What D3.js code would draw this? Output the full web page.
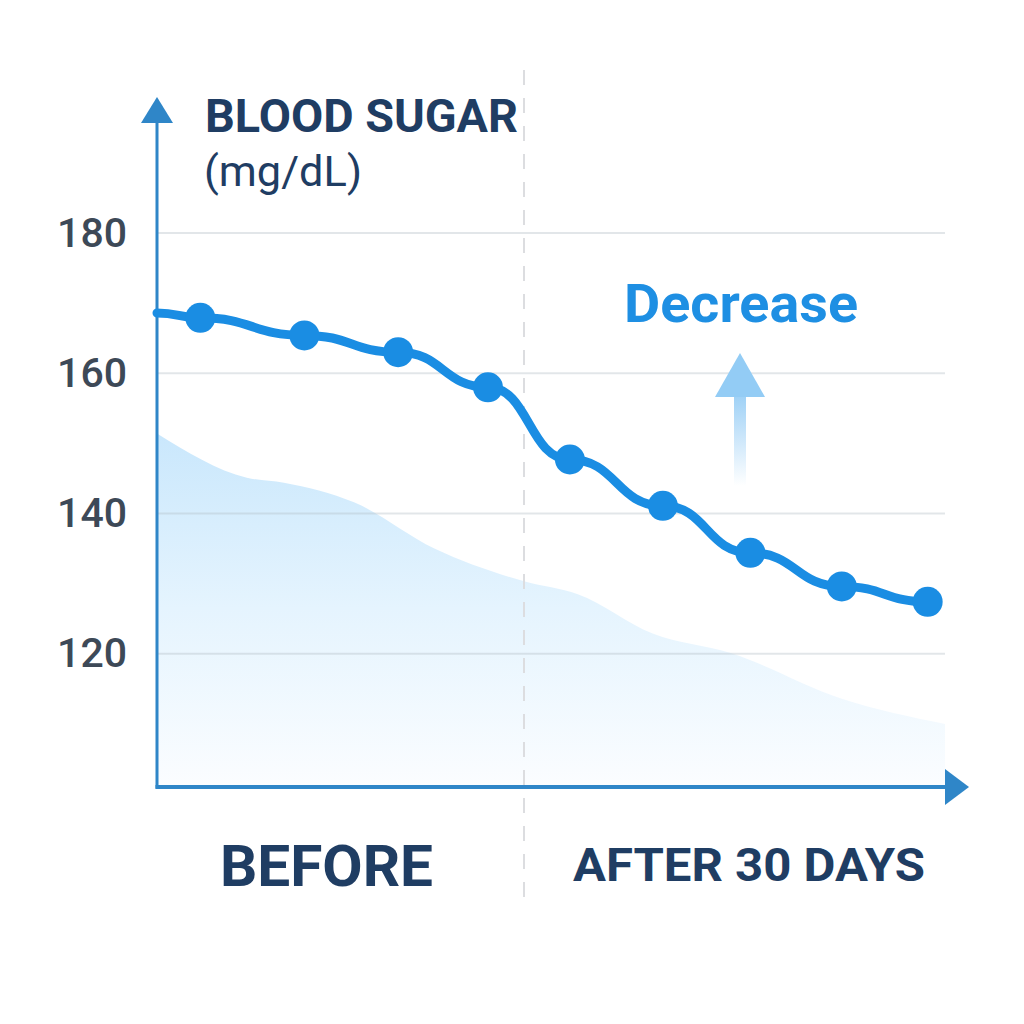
<!DOCTYPE html>
<html><head><meta charset="utf-8">
<script src="https://cdn.jsdelivr.net/npm/d3@7"></script>
<style>html,body{margin:0;padding:0;background:#fff;}svg{display:block;}</style>
</head><body>
<script>
// ---- data ----
const yTicks = [120, 140, 160, 180];
// measurement positions along the time axis (0 = axis start, 100 = axis end)
const measurePos = [0, 5.5, 18.7, 30.6, 42.0, 52.4, 64.2, 75.3, 86.9, 97.8];
const measureVal = [168.6, 167.9, 165.4, 163.0, 158.0, 147.7, 141.1, 134.4, 129.6, 127.4];
const markerIdx = [1, 2, 3, 4, 5, 6, 7, 8, 9];
// background band
const bandPos = [0, 11.4, 16.1, 25, 35.2, 46.7, 53.4, 62.9, 72.8, 86.9, 100];
const bandVal = [151.4, 145.1, 144.4, 141.6, 135.0, 130.3, 128.5, 122.9, 120.1, 113.6, 110];
const phaseLabels = ["BEFORE", "AFTER 30 DAYS"];
const yTitle = ["BLOOD SUGAR", "(mg/dL)"];
const noteText = "Decrease";

const W = 1024, H = 1024;
const svg = d3.select("body").append("svg").attr("width", W).attr("height", H);
const x = d3.scaleLinear().domain([0, 100]).range([157, 945]);
const y = d3.scaleLinear().domain([101, 180]).range([787, 233]);

const defs = svg.append("defs");
const ag = defs.append("linearGradient").attr("id", "areaG").attr("gradientUnits", "userSpaceOnUse")
  .attr("x1", 0).attr("y1", 430).attr("x2", 0).attr("y2", 787);
ag.append("stop").attr("offset", "0%").attr("stop-color", "#c9e7fc");
ag.append("stop").attr("offset", "50%").attr("stop-color", "#e5f4fe");
ag.append("stop").attr("offset", "100%").attr("stop-color", "#fbfdff");
const sg = defs.append("linearGradient").attr("id", "shaftG").attr("x1", 0).attr("y1", 0).attr("x2", 0).attr("y2", 1);
sg.append("stop").attr("offset", "0%").attr("stop-color", "#9fd1f6");
sg.append("stop").attr("offset", "100%").attr("stop-color", "#ffffff");

// area
const bandData = bandPos.map((p, i) => ({p, v: bandVal[i]}));
svg.append("path").datum(bandData)
  .attr("d", d3.area().x(d => x(d.p)).y0(y(101)).y1(d => y(d.v)).curve(d3.curveMonotoneX))
  .attr("fill", "url(#areaG)");

// gridlines
svg.append("g").selectAll("line").data(yTicks).join("line")
  .attr("x1", x(0)).attr("x2", x(100)).attr("y1", d => y(d)).attr("y2", d => y(d))
  .attr("stroke", "#b4bcc6").attr("stroke-opacity", 0.38).attr("stroke-width", 2);

// dashed divider
svg.append("line").attr("x1", 524).attr("x2", 524).attr("y1", 70).attr("y2", 900)
  .attr("stroke", "#dcdde0").attr("stroke-width", 2).attr("stroke-dasharray", "15 13");

// y tick labels
const yAxis = svg.append("g").attr("transform", `translate(${x(0)},0)`)
  .call(d3.axisLeft(y).tickValues(yTicks).tickSize(0).tickPadding(30));
yAxis.select(".domain").remove();
yAxis.selectAll("text").attr("font-family", "Roboto, sans-serif").attr("font-size", 41)
  .attr("font-weight", 500).attr("fill", "#3d4957");

// axes with arrows
const axisColor = "#2f86c8";
svg.append("line").attr("x1", x(0)).attr("x2", x(0)).attr("y1", y(101) + 1.5).attr("y2", 118)
  .attr("stroke", axisColor).attr("stroke-width", 3);
svg.append("path").attr("d", `M${x(0)},97 L${x(0)+16},123 L${x(0)-16},123 Z`).attr("fill", axisColor);
svg.append("line").attr("x1", x(0) - 1.5).attr("x2", x(100)).attr("y1", y(101)).attr("y2", y(101))
  .attr("stroke", axisColor).attr("stroke-width", 4);
svg.append("path").attr("d", `M${x(100)},${y(101)-18} L${x(100)+24},${y(101)} L${x(100)},${y(101)+18} Z`).attr("fill", axisColor);

// line
const lineData = measurePos.map((p, i) => ({p, v: measureVal[i]}));
svg.append("path").datum(lineData)
  .attr("d", d3.line().x(d => x(d.p)).y(d => y(d.v)).curve(d3.curveBumpX))
  .attr("fill", "none").attr("stroke", "#1a8de3").attr("stroke-width", 9).attr("stroke-linecap", "round");
svg.append("g").selectAll("circle").data(markerIdx.map(i => lineData[i])).join("circle")
  .attr("cx", d => x(d.p)).attr("cy", d => y(d.v)).attr("r", 15).attr("fill", "#1a8de3");

// up arrow decoration
svg.append("rect").attr("x", 734).attr("y", 396).attr("width", 12).attr("height", 90).attr("fill", "url(#shaftG)");
svg.append("path").attr("d", "M740,353 L765,397 L715,397 Z").attr("fill", "#93ccf5");

// texts
svg.append("text").attr("x", 624).attr("y", 322).text(noteText)
  .attr("font-family", "Roboto, sans-serif").attr("font-weight", 700).attr("font-size", 54)
  .attr("fill", "#1e8fe3").attr("textLength", 234).attr("lengthAdjust", "spacingAndGlyphs");
svg.append("text").attr("x", 205).attr("y", 132).text(yTitle[0])
  .attr("font-family", "Roboto, sans-serif").attr("font-weight", 700).attr("font-size", 47)
  .attr("fill", "#1f3d63").attr("textLength", 313).attr("lengthAdjust", "spacingAndGlyphs");
svg.append("text").attr("x", 204).attr("y", 186).text(yTitle[1])
  .attr("font-family", "Roboto, sans-serif").attr("font-weight", 400).attr("font-size", 42)
  .attr("fill", "#1f3d63").attr("textLength", 158).attr("lengthAdjust", "spacingAndGlyphs");
svg.append("text").attr("x", 220).attr("y", 886).text(phaseLabels[0])
  .attr("font-family", "Roboto, sans-serif").attr("font-weight", 700).attr("font-size", 57)
  .attr("fill", "#1f3d63").attr("textLength", 213).attr("lengthAdjust", "spacingAndGlyphs");
svg.append("text").attr("x", 573).attr("y", 881).text(phaseLabels[1])
  .attr("font-family", "Roboto, sans-serif").attr("font-weight", 700).attr("font-size", 46)
  .attr("fill", "#1f3d63").attr("textLength", 352).attr("lengthAdjust", "spacingAndGlyphs");
</script>
</body></html>
